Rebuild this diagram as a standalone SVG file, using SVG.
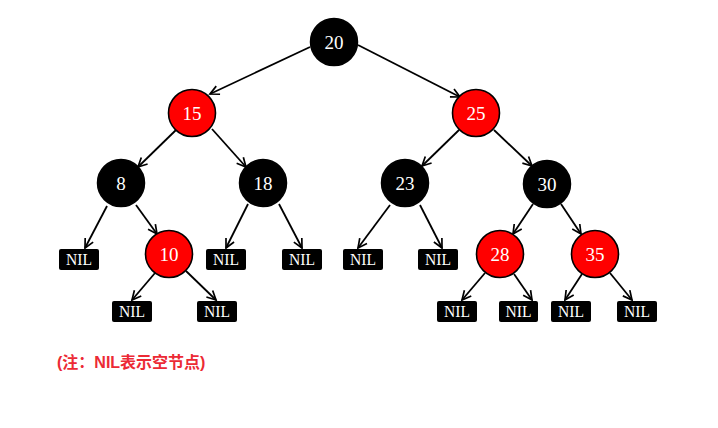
<svg xmlns="http://www.w3.org/2000/svg" width="718" height="428" viewBox="0 0 718 428">
<defs>
<marker id="arr" markerUnits="userSpaceOnUse" markerWidth="12" markerHeight="12" viewBox="0 0 12 12" refX="10" refY="6" orient="auto">
<path d="M1,1.5 L10,6 L1,10.5" fill="none" stroke="#000" stroke-width="1.7"/>
</marker>
<style>
.e{stroke:#000;stroke-width:1.8;fill:none;marker-end:url(#arr)}
.b{fill:#000;stroke:#000;stroke-width:1.5}
.r{fill:#ff0000;stroke:#000;stroke-width:1.6}
.t{font-family:"Liberation Serif","DejaVu Serif",serif;font-size:19px;fill:#fff;text-anchor:middle;dominant-baseline:central}
.nb{fill:#000}
.nt{font-family:"Liberation Serif","DejaVu Serif",serif;font-size:17px;fill:#fff;text-anchor:middle;dominant-baseline:central}
</style>
</defs>
<rect width="718" height="428" fill="#fff"/>
<g id="edges">
<line class="e" x1="310" y1="47" x2="210" y2="94"/>
<line class="e" x1="358" y1="45" x2="460" y2="97"/>
<line class="e" x1="176" y1="130" x2="138" y2="167"/>
<line class="e" x1="212" y1="129" x2="246" y2="167"/>
<line class="e" x1="459" y1="130" x2="422" y2="166"/>
<line class="e" x1="494" y1="130" x2="532" y2="166"/>
<line class="e" x1="107" y1="206" x2="85" y2="248"/>
<line class="e" x1="136" y1="205" x2="157" y2="234"/>
<line class="e" x1="248" y1="204" x2="226" y2="248"/>
<line class="e" x1="279" y1="204" x2="302" y2="248"/>
<line class="e" x1="390" y1="205" x2="358" y2="248"/>
<line class="e" x1="420" y1="205" x2="442" y2="248"/>
<line class="e" x1="533" y1="204" x2="513" y2="234"/>
<line class="e" x1="561" y1="204" x2="581" y2="234"/>
<line class="e" x1="155" y1="273" x2="132" y2="300"/>
<line class="e" x1="186" y1="271" x2="216" y2="300"/>
<line class="e" x1="485" y1="273" x2="462" y2="300"/>
<line class="e" x1="514" y1="274" x2="532" y2="300"/>
<line class="e" x1="582" y1="274" x2="565" y2="300"/>
<line class="e" x1="610" y1="273" x2="632" y2="300"/>
</g>
<g id="n20"><circle class="b" cx="334" cy="42" r="23.5"/><text class="t" x="334" y="42">20</text></g>
<g id="n15"><circle class="r" cx="192" cy="113" r="23.5"/><text class="t" x="192" y="113">15</text></g>
<g id="n25"><circle class="r" cx="476" cy="113" r="23.5"/><text class="t" x="476" y="113">25</text></g>
<g id="n8"><circle class="b" cx="121" cy="183" r="23.5"/><text class="t" x="121" y="183">8</text></g>
<g id="n18"><circle class="b" cx="263" cy="183" r="23.5"/><text class="t" x="263" y="183">18</text></g>
<g id="n23"><circle class="b" cx="405" cy="183" r="23.5"/><text class="t" x="405" y="183">23</text></g>
<g id="n30"><circle class="b" cx="547" cy="184" r="23.5"/><text class="t" x="547" y="184">30</text></g>
<g id="n10"><circle class="r" cx="169" cy="254" r="23.5"/><text class="t" x="169" y="254">10</text></g>
<g id="n28"><circle class="r" cx="500" cy="254" r="23.5"/><text class="t" x="500" y="254">28</text></g>
<g id="n35"><circle class="r" cx="595" cy="254" r="23.5"/><text class="t" x="595" y="254">35</text></g>
<g id="nil1"><rect class="nb" x="59" y="249" width="40" height="21" rx="2"/><text class="nt" x="79" y="259.5" textLength="26" lengthAdjust="spacingAndGlyphs">NIL</text></g>
<g id="nil2"><rect class="nb" x="206" y="249" width="40" height="21" rx="2"/><text class="nt" x="226" y="259.5" textLength="26" lengthAdjust="spacingAndGlyphs">NIL</text></g>
<g id="nil3"><rect class="nb" x="282" y="249" width="40" height="21" rx="2"/><text class="nt" x="302" y="259.5" textLength="26" lengthAdjust="spacingAndGlyphs">NIL</text></g>
<g id="nil4"><rect class="nb" x="343" y="249" width="40" height="21" rx="2"/><text class="nt" x="363" y="259.5" textLength="26" lengthAdjust="spacingAndGlyphs">NIL</text></g>
<g id="nil5"><rect class="nb" x="418" y="249" width="40" height="21" rx="2"/><text class="nt" x="438" y="259.5" textLength="26" lengthAdjust="spacingAndGlyphs">NIL</text></g>
<g id="nil6"><rect class="nb" x="112" y="301" width="40" height="21" rx="2"/><text class="nt" x="132" y="311.5" textLength="26" lengthAdjust="spacingAndGlyphs">NIL</text></g>
<g id="nil7"><rect class="nb" x="197" y="301" width="40" height="21" rx="2"/><text class="nt" x="217" y="311.5" textLength="26" lengthAdjust="spacingAndGlyphs">NIL</text></g>
<g id="nil8"><rect class="nb" x="437" y="301" width="40" height="21" rx="2"/><text class="nt" x="457" y="311.5" textLength="26" lengthAdjust="spacingAndGlyphs">NIL</text></g>
<g id="nil9"><rect class="nb" x="499" y="301" width="39" height="21" rx="2"/><text class="nt" x="518.5" y="311.5" textLength="26" lengthAdjust="spacingAndGlyphs">NIL</text></g>
<g id="nil10"><rect class="nb" x="551" y="301" width="40" height="21" rx="2"/><text class="nt" x="571" y="311.5" textLength="26" lengthAdjust="spacingAndGlyphs">NIL</text></g>
<g id="nil11"><rect class="nb" x="617" y="301" width="40" height="21" rx="2"/><text class="nt" x="637" y="311.5" textLength="26" lengthAdjust="spacingAndGlyphs">NIL</text></g>
<text x="57" y="368" font-family="'Liberation Sans','Noto Sans CJK SC',sans-serif" font-size="16" font-weight="bold" fill="#ec2a35">(注：NIL表示空节点)</text>
</svg>
